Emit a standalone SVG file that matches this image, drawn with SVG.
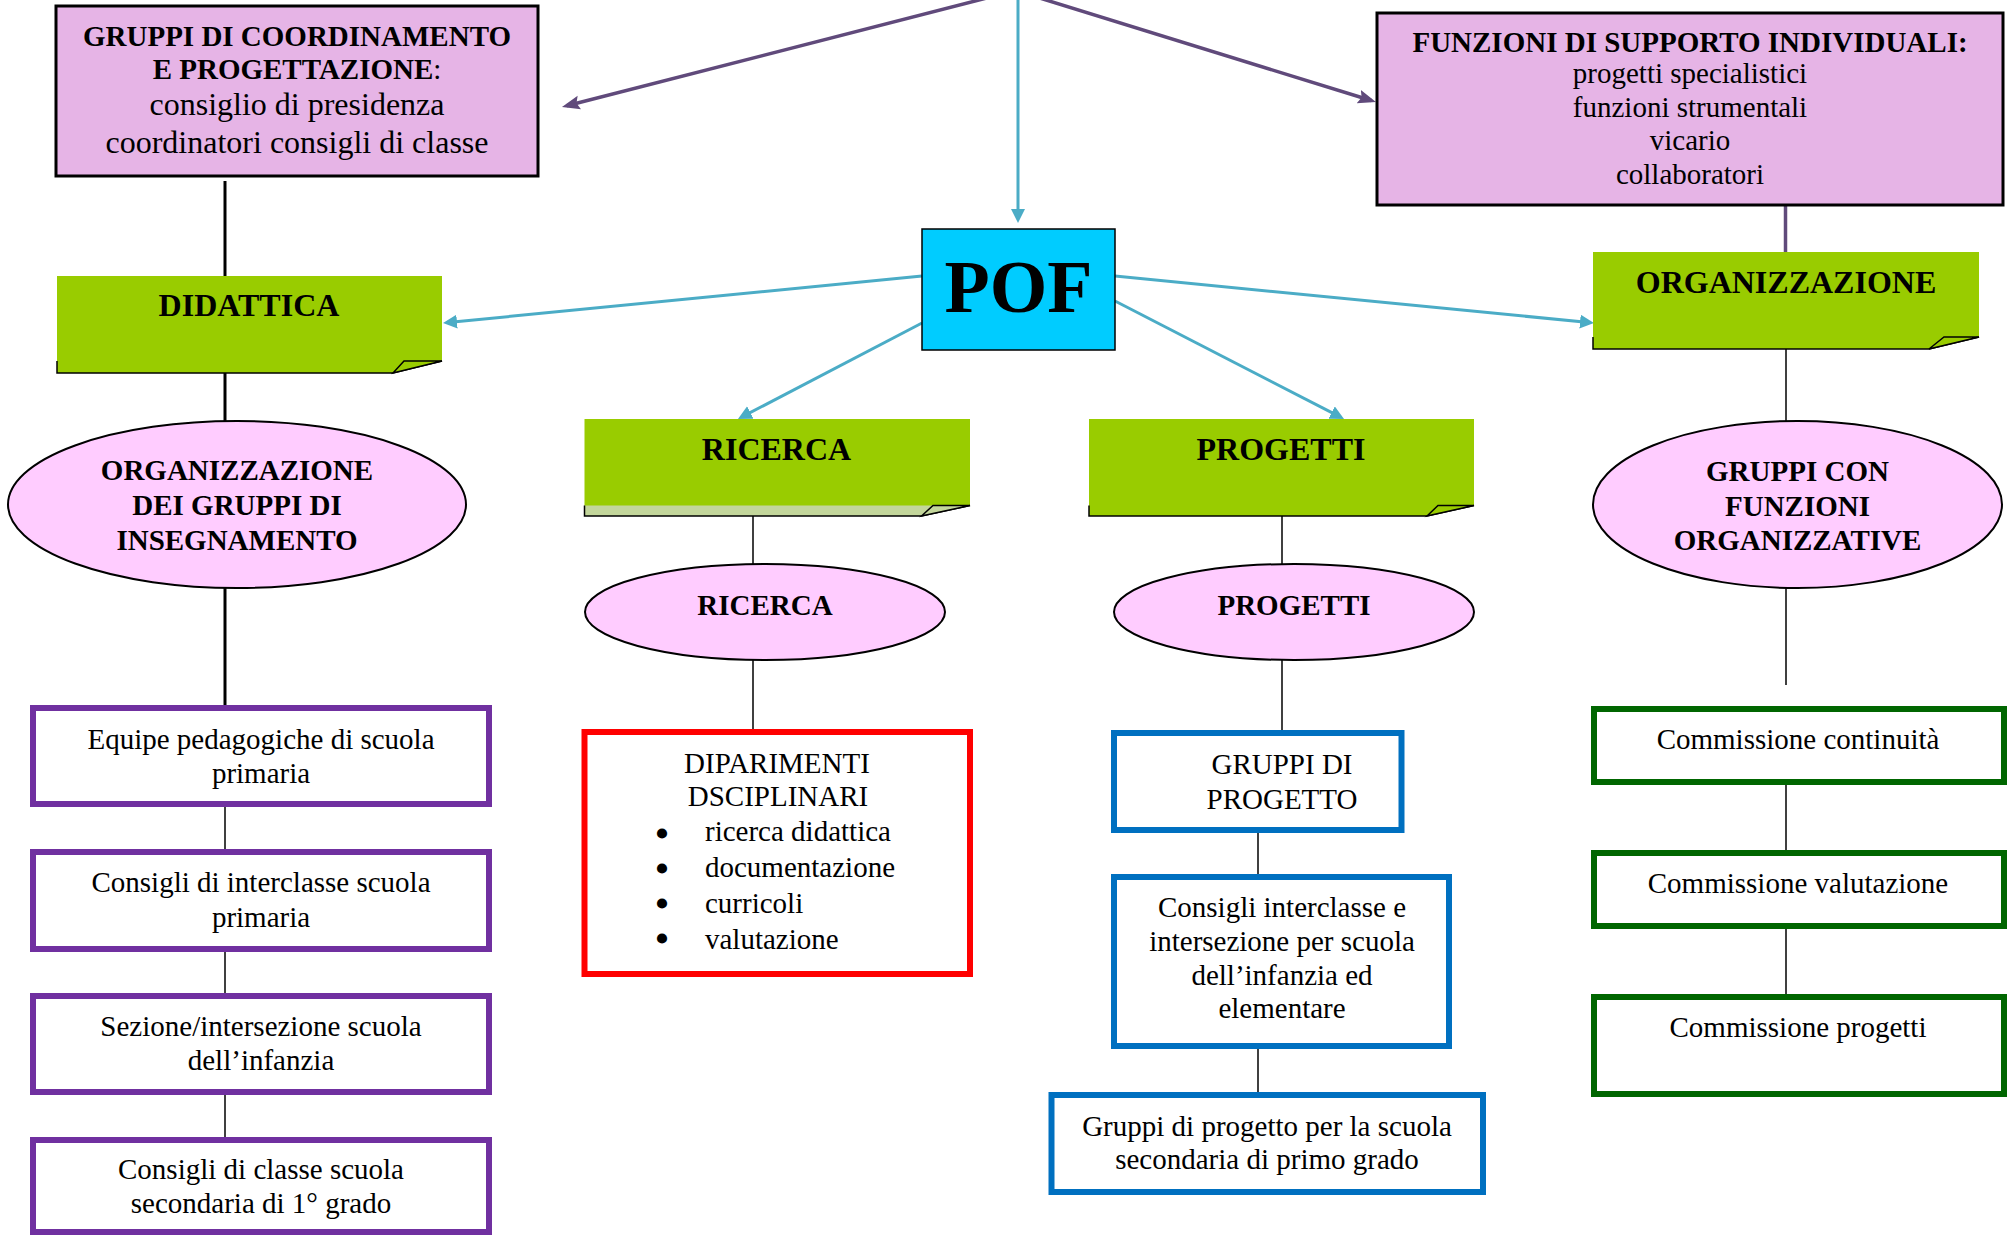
<svg xmlns="http://www.w3.org/2000/svg" width="2013" height="1235" viewBox="0 0 2013 1235">
  <style>
    text { font-family: "Liberation Serif", "Times New Roman", serif; fill: #000; text-anchor: middle; }
    .b { font-weight: bold; font-size: 29px; }
    .t { font-weight: bold; font-size: 32px; }
    .r { font-size: 29px; }
    .r32 { font-size: 32px; }
    .lft { text-anchor: start; }
    .bul { font-size: 30px; stroke: #000; stroke-width: 3; stroke-linejoin: round; }
    .pink { fill: #E6B4E6; stroke: #000; stroke-width: 3; }
    .ell { fill: #FFCCFF; stroke: #000; stroke-width: 2; }
    .leaf { fill: #99CC00; }
    .band { fill: #C3D69B; }
    .edge { fill: none; stroke: #000; stroke-width: 1.5; }
    .fold { stroke: #000; stroke-width: 1.5; stroke-linejoin: miter; }
    .box { fill: #fff; stroke-width: 6; }
    .purple { stroke: #7030A0; }
    .red { stroke: #FF0000; }
    .blue { stroke: #0070C0; }
    .green { stroke: #006600; }
    .cy { stroke: #4BACC6; stroke-width: 3; fill: none; }
    .vi { stroke: #604A7B; stroke-width: 3.5; fill: none; }
    .ln { stroke: #000; stroke-width: 1.5; }
    .lnb { stroke: #000; stroke-width: 3; }
  </style>
  <defs>
    <marker id="arrC" markerUnits="userSpaceOnUse" markerWidth="16" markerHeight="16" refX="9" refY="7" orient="auto">
      <path d="M0,0 L14,7 L0,14 Z" fill="#4BACC6"/>
    </marker>
    <marker id="arrV" markerUnits="userSpaceOnUse" markerWidth="20" markerHeight="16" refX="13" refY="7" orient="auto">
      <path d="M0,0 L18,7 L0,14 L3,7 Z" fill="#604A7B"/>
    </marker>
  </defs>

  <rect x="0" y="0" width="2013" height="1235" fill="#fff"/>

  <!-- connectors -->
  <g id="connectors">
    <!-- from the top -->
    <line class="vi" x1="994.6" y1="-4" x2="566.8" y2="105.8" marker-end="url(#arrV)"/>
    <line class="vi" x1="1033.1" y1="-4" x2="1371.2" y2="100.5" marker-end="url(#arrV)"/>
    <line class="cy" x1="1018" y1="-4" x2="1018" y2="218" marker-end="url(#arrC)"/>
    <!-- from POF -->
    <line class="cy" x1="922" y1="276" x2="448" y2="322.5" marker-end="url(#arrC)"/>
    <line class="cy" x1="1115" y1="276" x2="1589" y2="322.5" marker-end="url(#arrC)"/>
    <line class="cy" x1="922" y1="323" x2="742.4" y2="416.7" marker-end="url(#arrC)"/>
    <line class="cy" x1="1115" y1="301" x2="1339.6" y2="416.7" marker-end="url(#arrC)"/>
    <!-- didattica column -->
    <line class="lnb" x1="225" y1="181" x2="225" y2="276"/>
    <line class="lnb" x1="225" y1="373" x2="225" y2="421"/>
    <line class="lnb" x1="225" y1="588" x2="225" y2="706"/>
    <line class="ln" x1="225" y1="807" x2="225" y2="850"/>
    <line class="ln" x1="225" y1="952" x2="225" y2="993"/>
    <line class="ln" x1="225" y1="1095" x2="225" y2="1137"/>
    <!-- ricerca column -->
    <line class="ln" x1="753" y1="516" x2="753" y2="564"/>
    <line class="ln" x1="753" y1="660" x2="753" y2="730"/>
    <!-- progetti column -->
    <line class="ln" x1="1282" y1="516" x2="1282" y2="564"/>
    <line class="ln" x1="1282" y1="660" x2="1282" y2="731"/>
    <line class="ln" x1="1258" y1="833" x2="1258" y2="875"/>
    <line class="ln" x1="1258" y1="1049" x2="1258" y2="1092"/>
    <!-- organizzazione column -->
    <line class="vi" x1="1785.5" y1="206" x2="1785.5" y2="252"/>
    <line class="ln" x1="1786" y1="349" x2="1786" y2="421"/>
    <line class="ln" x1="1786" y1="588" x2="1786" y2="685"/>
    <line class="ln" x1="1786" y1="785" x2="1786" y2="851"/>
    <line class="ln" x1="1786" y1="929" x2="1786" y2="995"/>
  </g>

  <!-- top level boxes -->
  <g id="gruppi-coordinamento">
    <rect class="pink" x="56" y="6" width="482" height="170"/>
    <text x="297" y="46" class="b">GRUPPI DI COORDINAMENTO</text>
    <text x="297" y="79" class="b">E PROGETTAZIONE<tspan font-weight="normal">:</tspan></text>
    <text x="297" y="115" class="r32">consiglio di presidenza</text>
    <text x="297" y="153" class="r32">coordinatori consigli di classe</text>
  </g>

  <g id="funzioni-supporto">
    <rect class="pink" x="1377" y="13" width="626" height="192"/>
    <text x="1690" y="52" class="b">FUNZIONI DI SUPPORTO INDIVIDUALI:</text>
    <text x="1690" y="83" class="r">progetti specialistici</text>
    <text x="1690" y="117" class="r">funzioni strumentali</text>
    <text x="1690" y="150" class="r">vicario</text>
    <text x="1690" y="184" class="r">collaboratori</text>
  </g>

  <g id="pof">
    <rect x="922" y="229" width="193" height="121" fill="#00CCFF" stroke="#000" stroke-width="1.5"/>
    <text x="1018.5" y="312" style="font-size:74px;font-weight:bold">POF</text>
  </g>

  <!-- area labels (folded sheets) -->
  <g id="didattica">
    <path class="leaf" d="M57,276 H442 V361 L393,373 H57 Z"/>
    <path class="edge" d="M57,361 V373 H393 L442,361"/>
    <path class="fold leaf" d="M393,373 L404,361 H442 Z"/>
    <text x="249" y="316" class="t">DIDATTICA</text>
  </g>

  <g id="organizzazione">
    <path class="leaf" d="M1593,252 H1979 V337 L1929,349 H1593 Z"/>
    <path class="edge" d="M1593,337 V349 H1929 L1979,337"/>
    <path class="fold leaf" d="M1929,349 L1944,337 H1979 Z"/>
    <text x="1786" y="293" class="t">ORGANIZZAZIONE</text>
  </g>

  <g id="ricerca">
    <path class="leaf" d="M584.5,419 H970 V505.5 L921.5,516 H584.5 Z"/>
    <path class="band" d="M584.5,505.5 H970 L921.5,516 H584.5 Z"/>
    <path class="edge" d="M584.5,505.5 V516 H921.5 L970,505.5"/>
    <path class="fold band" d="M921.5,516 L933,505.5 H970 Z"/>
    <text x="776.5" y="460" class="t">RICERCA</text>
  </g>

  <g id="progetti">
    <path class="leaf" d="M1089,419 H1474 V505.5 L1427,516 H1089 Z"/>
    <path class="edge" d="M1089,505.5 V516 H1427 L1474,505.5"/>
    <path class="fold leaf" d="M1427,516 L1438,505.5 H1474 Z"/>
    <text x="1281" y="460" class="t">PROGETTI</text>
  </g>

  <!-- ellipses -->
  <g id="gruppi-insegnamento">
    <ellipse class="ell" cx="237" cy="504.5" rx="229" ry="83.5"/>
    <text x="237" y="480" class="b">ORGANIZZAZIONE</text>
    <text x="237" y="515" class="b">DEI GRUPPI DI</text>
    <text x="237" y="550" class="b">INSEGNAMENTO</text>
  </g>

  <g id="ricerca-gruppi">
    <ellipse class="ell" cx="765" cy="612" rx="180" ry="48"/>
    <text x="765" y="615" class="b">RICERCA</text>
  </g>

  <g id="progetti-gruppi">
    <ellipse class="ell" cx="1294" cy="612" rx="180" ry="48"/>
    <text x="1294" y="615" class="b">PROGETTI</text>
  </g>

  <g id="gruppi-organizzativi">
    <ellipse class="ell" cx="1797.5" cy="504.5" rx="204.5" ry="83.5"/>
    <text x="1797.5" y="481" class="b">GRUPPI CON</text>
    <text x="1797.5" y="516" class="b">FUNZIONI</text>
    <text x="1797.5" y="550" class="b">ORGANIZZATIVE</text>
  </g>

  <!-- didattica groups -->
  <g id="equipe">
    <rect class="box purple" x="33" y="708" width="456" height="96"/>
    <text x="261" y="749" class="r">Equipe pedagogiche di scuola</text>
    <text x="261" y="783" class="r">primaria</text>
  </g>
  <g id="interclasse-primaria">
    <rect class="box purple" x="33" y="852" width="456" height="97"/>
    <text x="261" y="892" class="r">Consigli di interclasse scuola</text>
    <text x="261" y="927" class="r">primaria</text>
  </g>
  <g id="sezione-infanzia">
    <rect class="box purple" x="33" y="996" width="456" height="96"/>
    <text x="261" y="1036" class="r">Sezione/intersezione scuola</text>
    <text x="261" y="1070" class="r">dell’infanzia</text>
  </g>
  <g id="classe-secondaria">
    <rect class="box purple" x="33" y="1140" width="456" height="92"/>
    <text x="261" y="1179" class="r">Consigli di classe scuola</text>
    <text x="261" y="1213" class="r">secondaria di 1° grado</text>
  </g>

  <!-- ricerca groups -->
  <g id="dipartimenti">
    <rect class="box red" x="584.5" y="732" width="385.5" height="242"/>
    <text x="777" y="773" class="r">DIPARIMENTI</text>
    <text x="778" y="806" class="r">DSCIPLINARI</text>
    <text x="662" y="844" class="bul">•</text>
    <text x="662" y="879" class="bul">•</text>
    <text x="662" y="914" class="bul">•</text>
    <text x="662" y="949" class="bul">•</text>
    <text x="705" y="841" class="r lft">ricerca didattica</text>
    <text x="705" y="877" class="r lft">documentazione</text>
    <text x="705" y="913" class="r lft">curricoli</text>
    <text x="705" y="949" class="r lft">valutazione</text>
  </g>

  <!-- progetti groups -->
  <g id="gruppi-progetto">
    <rect class="box blue" x="1114" y="733" width="287.5" height="97"/>
    <text x="1282" y="774" class="r">GRUPPI DI</text>
    <text x="1282" y="809" class="r">PROGETTO</text>
  </g>
  <g id="interclasse-intersezione">
    <rect class="box blue" x="1114" y="877" width="335" height="169"/>
    <text x="1282" y="917" class="r">Consigli interclasse e</text>
    <text x="1282" y="951" class="r">intersezione per scuola</text>
    <text x="1282" y="985" class="r">dell’infanzia ed</text>
    <text x="1282" y="1018" class="r">elementare</text>
  </g>
  <g id="progetto-secondaria">
    <rect class="box blue" x="1051.5" y="1095" width="431.5" height="97"/>
    <text x="1267" y="1136" class="r">Gruppi di progetto per la scuola</text>
    <text x="1267" y="1169" class="r">secondaria di primo grado</text>
  </g>

  <!-- organizzazione groups -->
  <g id="commissione-continuita">
    <rect class="box green" x="1594" y="709" width="410" height="73"/>
    <text x="1798" y="749" class="r">Commissione continuità</text>
  </g>
  <g id="commissione-valutazione">
    <rect class="box green" x="1594" y="853" width="410" height="73"/>
    <text x="1798" y="893" class="r">Commissione valutazione</text>
  </g>
  <g id="commissione-progetti">
    <rect class="box green" x="1594" y="997" width="410" height="97"/>
    <text x="1798" y="1037" class="r">Commissione progetti</text>
  </g>
</svg>
